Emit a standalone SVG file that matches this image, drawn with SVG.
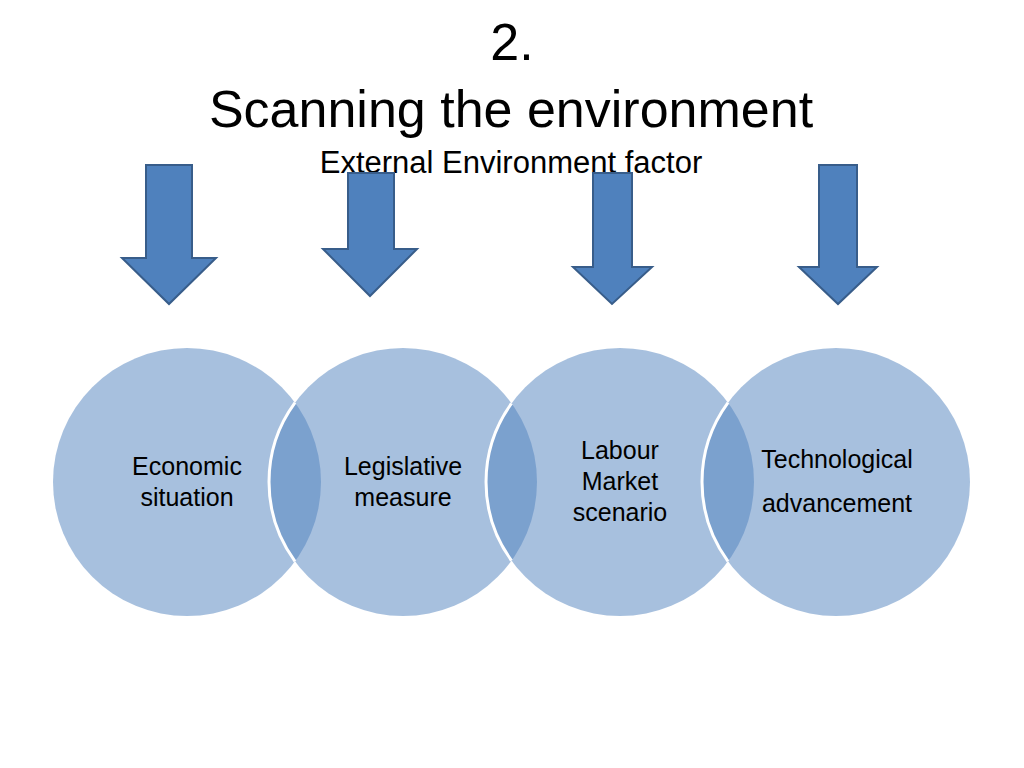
<svg xmlns="http://www.w3.org/2000/svg" width="1024" height="768" viewBox="0 0 1024 768">
<style>
.title{font-family:"Liberation Sans",Arial,sans-serif;fill:#000;text-anchor:middle}
.lbl{font-family:"Liberation Sans",Arial,sans-serif;font-size:25px;fill:#000;text-anchor:middle}
.circ{fill:#4f81bd;fill-opacity:0.5;stroke:none}
.edge{fill:none;stroke:#fff;stroke-width:3}
.arrow{fill:#4f81bd;stroke:#385d8a;stroke-width:2;stroke-linejoin:miter}
</style>
<rect width="1024" height="768" fill="#fff"/>
<g id="title">
<text class="title" x="512" y="60" font-size="52">2.</text>
<text class="title" x="511" y="127" font-size="52">Scanning the environment</text>
<text class="title" x="511" y="173" font-size="31">External Environment factor</text>
</g>
<g id="connectors">
<path class="arrow" d="M146,165 H192 V258 H216 L169,304 L122,258 H146 Z"/>
<path class="arrow" d="M348,173 H394 V249 H417 L370,296 L323,249 H348 Z"/>
<path class="arrow" d="M593,173 H632 V267 H652 L612,304 L573,267 H593 Z"/>
<path class="arrow" d="M819,165 H857 V267 H877 L838,304 L799,267 H819 Z"/>
</g>
<g id="node-economic">
<circle class="circ" cx="187" cy="482" r="134"/>
<text class="lbl" x="187" y="475">Economic</text>
<text class="lbl" x="187" y="506">situation</text>
</g>
<g id="node-legislative">
<circle class="circ" cx="403" cy="482" r="134"/>
<path class="edge" d="M295,402.7 A134,134 0 0 0 295,561.3"/>
<text class="lbl" x="403" y="475">Legislative</text>
<text class="lbl" x="403" y="506">measure</text>
</g>
<g id="node-labour">
<circle class="circ" cx="620" cy="482" r="134"/>
<path class="edge" d="M511.5,403.4 A134,134 0 0 0 511.5,560.6"/>
<text class="lbl" x="620" y="459">Labour</text>
<text class="lbl" x="620" y="490">Market</text>
<text class="lbl" x="620" y="521">scenario</text>
</g>
<g id="node-technological">
<circle class="circ" cx="836" cy="482" r="134"/>
<path class="edge" d="M728,402.7 A134,134 0 0 0 728,561.3"/>
<text class="lbl" x="837" y="468">Technological</text>
<text class="lbl" x="837" y="512">advancement</text>
</g>
</svg>
